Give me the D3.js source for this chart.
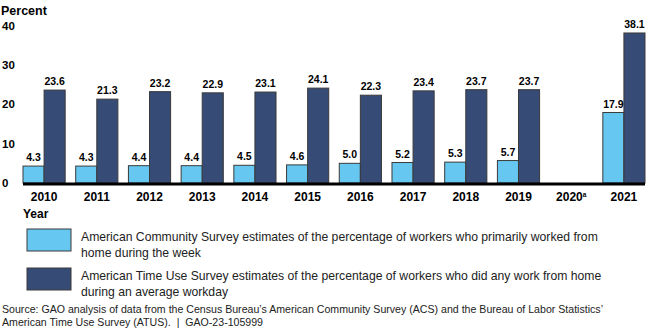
<!DOCTYPE html>
<html>
<head>
<meta charset="utf-8">
<script src="https://cdn.jsdelivr.net/npm/d3@7"></script>
<style>
  body { margin: 0; background: #fff; }
  text { font-family: "Liberation Sans", Arial, sans-serif; white-space: pre; }
</style>
</head>
<body>
<script>
// data
const years = ['2010', '2011', '2012', '2013', '2014', '2015', '2016', '2017', '2018', '2019', '2020', '2021'];
const acsValues = [4.3, 4.3, 4.4, 4.4, 4.5, 4.6, 5.0, 5.2, 5.3, 5.7, null, 17.9];
const atusValues = [23.6, 21.3, 23.2, 22.9, 23.1, 24.1, 22.3, 23.4, 23.7, 23.7, null, 38.1];
const yTicks = [0, 10, 20, 30, 40];
const seriesNames = ['acs', 'atus'];
const legendLines = [
  ['American Community Survey estimates of the percentage of workers who primarily worked from', 'home during the week'],
  ['American Time Use Survey estimates of the percentage of workers who did any work from home', 'during an average workday']
];
const sourceLines = [
  'Source: GAO analysis of data from the Census Bureau\u2019s American Community Survey (ACS) and the Bureau of Labor Statistics\u2019',
  'American Time Use Survey (ATUS).  |  GAO-23-105999'
];

const colors = { acs: '#66c8f0', atus: '#364b76' };

const width = 650;
const height = 330;

const svg = d3.select('body')
  .append('svg')
    .attr('width', width)
    .attr('height', height);

const x = d3.scaleBand()
  .domain(years)
  .range([23, 645])
  .paddingInner(0.2)
  .paddingOuter(0);

const xSub = d3.scaleBand()
  .domain(seriesNames)
  .range([0, x.bandwidth()]);

const y = d3.scaleLinear()
  .domain([0, 40])
  .range([183, 25.5]);

const data = years.map((yr, i) => ({ year: yr, acs: acsValues[i], atus: atusValues[i] }));

// percent label
svg.append('text')
  .attr('x', 1)
  .attr('y', 15)
  .style('font-size', '12.5px')
  .style('font-weight', 'bold')
  .text('Percent');

// y tick labels
svg.append('g')
  .selectAll('text')
  .data(yTicks)
  .join('text')
    .attr('x', 2)
    .attr('y', d => y(d) + 4)
    .style('font-size', '11.5px')
    .style('font-weight', 'bold')
    .text(d => d);

// bars
const groups = svg.append('g')
  .selectAll('g')
  .data(data)
  .join('g')
    .attr('transform', d => `translate(${x(d.year)},0)`);

groups.selectAll('rect')
  .data(d => seriesNames.filter(k => d[k] != null).map(k => ({ key: k, value: d[k] })))
  .join('rect')
    .attr('x', d => xSub(d.key))
    .attr('y', d => y(d.value))
    .attr('width', xSub.bandwidth())
    .attr('height', d => y(0) - y(d.value))
    .attr('fill', d => colors[d.key])
    .attr('stroke', '#3a3a3a')
    .attr('stroke-width', 1);

groups.selectAll('text')
  .data(d => seriesNames.filter(k => d[k] != null).map(k => ({ key: k, value: d[k] })))
  .join('text')
    .attr('x', d => xSub(d.key) + xSub.bandwidth() / 2)
    .attr('y', d => y(d.value) - 5)
    .attr('text-anchor', 'middle')
    .style('font-size', '10.5px')
    .style('font-weight', 'bold')
    .text(d => d.value.toFixed(1));

// baseline
svg.append('line')
  .attr('x1', 23)
  .attr('x2', 645)
  .attr('y1', y(0) + 1)
  .attr('y2', y(0) + 1)
  .attr('stroke', '#000')
  .attr('stroke-width', 3);

// x labels
const xLabels = svg.append('g')
  .selectAll('text')
  .data(years)
  .join('text')
    .attr('x', d => x(d) + x.bandwidth() / 2)
    .attr('y', 201)
    .attr('text-anchor', 'middle')
    .style('font-size', '12px')
    .style('font-weight', 'bold');

xLabels.append('tspan').text(d => d);
xLabels.filter(d => d === '2020')
  .append('tspan')
    .attr('dy', -4)
    .style('font-size', '6.5px')
    .text('a');

// legend
svg.append('text')
  .attr('x', 23)
  .attr('y', 218)
  .style('font-size', '12px')
  .style('font-weight', 'bold')
  .text('Year');

const legend = svg.append('g')
  .selectAll('g')
  .data(seriesNames)
  .join('g')
    .attr('transform', (d, i) => `translate(27,${229 + i * 39})`);

legend.append('rect')
  .attr('width', 44)
  .attr('height', 22)
  .attr('fill', d => colors[d])
  .attr('stroke', '#3a3a3a')
  .attr('stroke-width', 1);

legend.each(function (d, i) {
  d3.select(this).selectAll('text')
    .data(legendLines[i])
    .join('text')
      .attr('x', 54)
      .attr('y', (t, j) => 12 + j * 16)
      .style('font-size', '12.2px')
      .style('fill', '#222')
      .text(t => t);
});

// source
svg.append('g')
  .selectAll('text')
  .data(sourceLines)
  .join('text')
    .attr('x', 2)
    .attr('y', (d, i) => 313 + i * 13)
    .style('font-size', '10.6px')
    .style('fill', '#222')
    .text(d => d);
</script>
</body>
</html>
